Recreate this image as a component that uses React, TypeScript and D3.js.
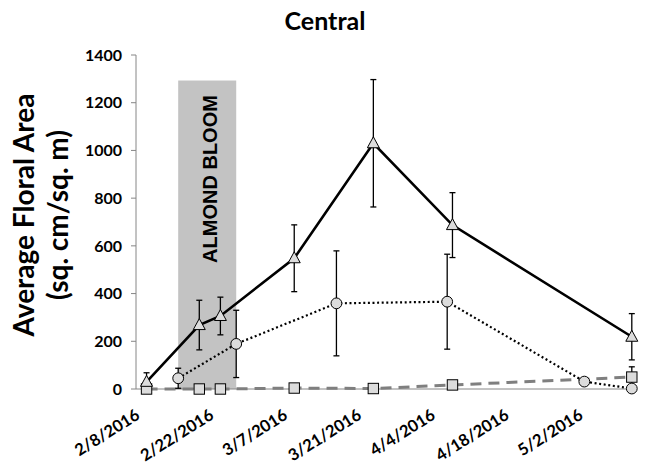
import React from 'react';
import * as d3 from 'd3';

const parse = d3.utcParse('%m/%d/%Y');

const title = 'Central';
const yTitle1 = 'Average Floral Area';
const yTitle2 = '(sq. cm/sq. m)';
const xTickLabels = ['2/8/2016', '2/22/2016', '3/7/2016', '3/21/2016', '4/4/2016', '4/18/2016', '5/2/2016'];
const yTickValues = [0, 200, 400, 600, 800, 1000, 1200, 1400];
const xDomain = ['2/8/2016', '5/12/2016'];

const triDates = ['2/10/2016', '2/20/2016', '2/24/2016', '3/9/2016', '3/24/2016', '4/8/2016', '5/12/2016'];
const triValues = [30, 268, 306, 548, 1030, 687, 219];
const triErrors = [38, 104, 79, 140, 267, 136, 97];

const circDates = ['2/16/2016', '2/27/2016', '3/17/2016', '4/7/2016', '5/3/2016', '5/12/2016'];
const circValues = [45, 189, 359, 366, 31, 2];
const circErrors = [42, 141, 220, 199, 0, 0];

const sqDates = ['2/10/2016', '2/20/2016', '2/24/2016', '3/9/2016', '3/24/2016', '4/8/2016', '5/12/2016'];
const sqValues = [0, 0, 0, 4, 2, 17, 50];
const sqErrors = [0, 0, 0, 0, 0, 0, 43];

const bloomLabel = 'ALMOND BLOOM';
const bloomStart = '2/16/2016';
const bloomEnd = '2/27/2016';
const bloomTop = 1293;

type Pt = { d: Date; v: number; e: number };
const mk = (ds: string[], vs: number[], es: number[]): Pt[] =>
  ds.map((d, i) => ({ d: parse(d) as Date, v: vs[i], e: es[i] }));

const tri = mk(triDates, triValues, triErrors);
const circ = mk(circDates, circValues, circErrors);
const sq = mk(sqDates, sqValues, sqErrors);

const W = 647;
const H = 466;
const FONT = 'Lato, "Open Sans", sans-serif';

export default function App() {
  const x = d3
    .scaleUtc()
    .domain(xDomain.map((s) => parse(s) as Date))
    .range([136, 631.8]);
  const y = d3.scaleLinear().domain([0, 1400]).range([389, 55]);

  const line = d3
    .line<Pt>()
    .x((p) => x(p.d))
    .y((p) => y(p.v));

  const errBars = (pts: Pt[], key: string) =>
    pts
      .filter((p) => p.e > 0)
      .map((p, i) => {
        const cx = x(p.d);
        const y1 = y(p.v + p.e);
        const y2 = y(Math.max(0, p.v - p.e));
        return (
          <g key={key + i} stroke="#000" strokeWidth={1.3}>
            <line x1={cx} x2={cx} y1={y1} y2={y2} />
            <line x1={cx - 3} x2={cx + 3} y1={y1} y2={y1} />
            <line x1={cx - 3} x2={cx + 3} y1={y2} y2={y2} />
          </g>
        );
      });

  const markerFill = '#dcdcdc';
  const bx0 = x(parse(bloomStart) as Date);
  const bx1 = x(parse(bloomEnd) as Date);

  return (
    <div style={{ position: 'fixed', left: 0, top: 0 }}>
      <svg width={W} height={H} style={{ display: 'block', background: '#fff' }}>
        <rect x={bx0} y={y(bloomTop)} width={bx1 - bx0} height={y(0) - y(bloomTop)} fill="#c3c3c3" />
        <text
          transform={`translate(${(bx0 + bx1) / 2 + 10},179) rotate(-90)`}
          textAnchor="middle"
          fontFamily='"Liberation Sans", Arial, sans-serif'
          fontWeight="bold"
          fontSize={20}
          fill="#000"
        >
          {bloomLabel}
        </text>

        {/* title */}
        <text x={325} y={30} textAnchor="middle" fontFamily={FONT} fontWeight="bold" fontSize={25}>
          {title}
        </text>

        {/* y axis title */}
        <g transform="translate(0,215)" fontFamily={FONT} fontWeight="bold" fontSize={28} textAnchor="middle">
          <text transform="translate(34,0) rotate(-90)">{yTitle1}</text>
          <text transform="translate(68,0) rotate(-90)">{yTitle2}</text>
        </g>

        {/* y axis */}
        <line x1={136} x2={136} y1={y(1400)} y2={y(0)} stroke="#868686" strokeWidth={1} />
        {yTickValues.map((t) => (
          <g key={t}>
            <line x1={131} x2={136} y1={y(t)} y2={y(t)} stroke="#868686" strokeWidth={1} />
            <text
              x={122}
              y={y(t)}
              dy="0.36em"
              textAnchor="end"
              fontFamily={FONT}
              fontWeight="bold"
              fontSize={16}
            >
              {t}
            </text>
          </g>
        ))}

        {/* x axis */}
        <line x1={136} x2={x.range()[1]} y1={y(0)} y2={y(0)} stroke="#868686" strokeWidth={1} />
        {xTickLabels.map((s) => {
          const tx = x(parse(s) as Date);
          return (
            <text
              key={s}
              transform={`translate(${tx + 5},418) rotate(-32)`}
              textAnchor="end"
              fontFamily={FONT}
              fontWeight="bold"
              fontSize={16.5}
            >
              {s}
            </text>
          );
        })}

        {/* lines */}
        <path d={line(sq) || ''} fill="none" stroke="#7f7f7f" strokeWidth={3} strokeDasharray="11,7" />
        <path d={line(circ) || ''} fill="none" stroke="#000" strokeWidth={2.2} strokeDasharray="2,2.6" />
        <path d={line(tri) || ''} fill="none" stroke="#000" strokeWidth={2.6} />

        {/* error bars */}
        {errBars(sq, 's')}
        {errBars(circ, 'c')}
        {errBars(tri, 't')}

        {/* markers */}
        {circ.map((p, i) => (
          <circle key={'cm' + i} cx={x(p.d)} cy={y(p.v)} r={5.4} fill={markerFill} stroke="#000" strokeWidth={1} />
        ))}
        {sq.map((p, i) => (
          <rect
            key={'sm' + i}
            x={x(p.d) - 5.2}
            y={y(p.v) - 5.2}
            width={10.4}
            height={10.4}
            fill={markerFill}
            stroke="#000"
            strokeWidth={1}
          />
        ))}
        {tri.map((p, i) => {
          const cx = x(p.d);
          const cy = y(p.v);
          return (
            <path
              key={'tm' + i}
              d={`M${cx},${cy - 6.5}L${cx + 6},${cy + 4.5}L${cx - 6},${cy + 4.5}Z`}
              fill={markerFill}
              stroke="#000"
              strokeWidth={1}
            />
          );
        })}
      </svg>
    </div>
  );
}
